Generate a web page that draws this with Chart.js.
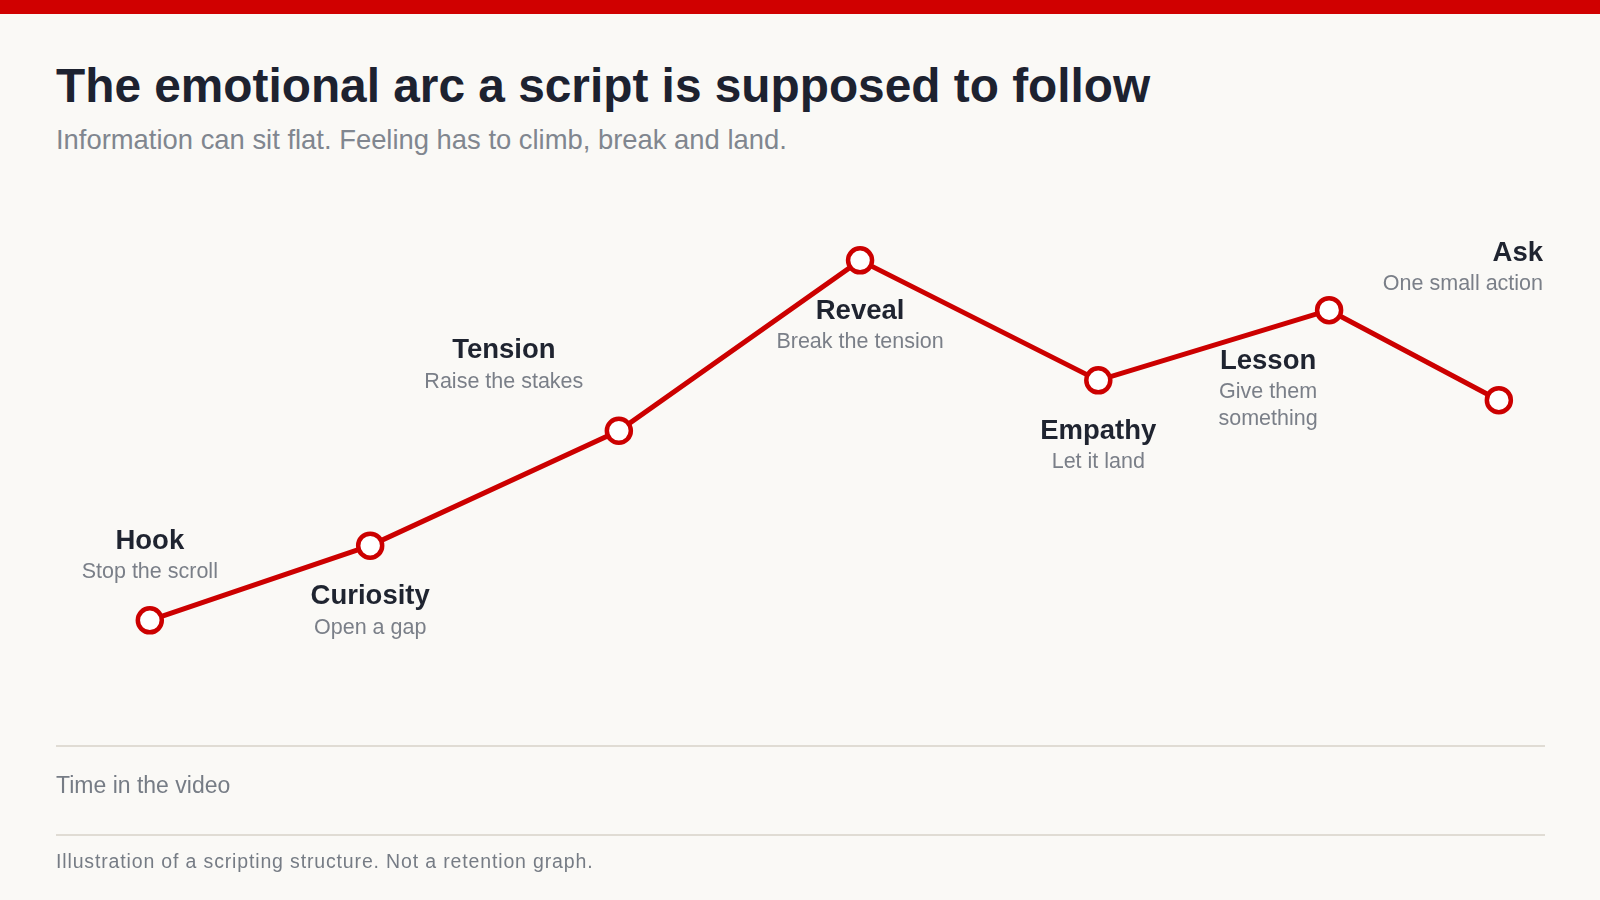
<!DOCTYPE html>
<html>
<head>
<meta charset="utf-8">
<script src="https://cdn.jsdelivr.net/npm/chart.js@4.4.1/dist/chart.umd.min.js"></script>
<style>
  html, body { margin: 0; padding: 0; }
  body {
    width: 1600px; height: 900px; overflow: hidden;
    background: #faf9f6;
    font-family: "Liberation Sans", Arial, sans-serif;
    position: relative;
  }
  .topbar { position: absolute; left: 0; top: 0; width: 1600px; height: 14px; background: #d00000; }
  .title {
    position: absolute; left: 56px; top: 60px; margin: 0;
    font-size: 47.8px; line-height: 52px; font-weight: bold; color: #1d2230;
  }
  .subtitle {
    position: absolute; left: 56px; top: 125px; margin: 0;
    font-size: 27.4px; line-height: 30px; color: #80868f;
  }
  .rule { position: absolute; left: 56px; width: 1489px; height: 2px; background: #e0dcd4; }
  .axis-note {
    position: absolute; left: 56px; top: 772px;
    font-size: 23px; line-height: 26px; color: #767c85;
  }
  .foot {
    position: absolute; left: 56px; top: 850px;
    font-size: 19.5px; line-height: 22px; color: #767c85; letter-spacing: 0.85px;
  }
  #wrap { position: absolute; left: 0; top: 0; width: 1600px; height: 900px; }
</style>
</head>
<body>
<div class="topbar"></div>
<h1 class="title">The emotional arc a script is supposed to follow</h1>
<div class="subtitle">Information can sit flat. Feeling has to climb, break and land.</div>
<div id="wrap"><canvas id="chartArc"></canvas></div>
<div class="rule" style="top:745px"></div>
<div class="axis-note">Time in the video</div>
<div class="rule" style="top:834px"></div>
<div class="foot">Illustration of a scripting structure. Not a retention graph.</div>

<script>
// Etapas do roteiro
const etapas = ['Hook', 'Curiosity', 'Tension', 'Reveal', 'Empathy', 'Lesson', 'Ask'];
const descricoes = ['Stop the scroll', 'Open a gap', 'Raise the stakes', 'Break the tension',
  'Let it land', 'Give them\nsomething', 'One small action'];
// Tempo no vídeo (0-100) e intensidade emocional (0-100)
const tempo = [6.3, 21.1, 37.8, 54.0, 70.0, 85.5, 96.9];
const emocao = [22.2, 35.4, 55.7, 85.8, 64.6, 77.0, 61.1];

// Posição dos rótulos em relação ao ponto (só estilo)
const posRotulos = [
  { dx: 0, dy: -79 },
  { dx: 0, dy: 51 },
  { dx: -115, dy: -80 },
  { dx: 0, dy: 51 },
  { dx: 0, dy: 51 },
  { dx: -61, dy: 51 },
  { dx: 0, dy: -147, right: true }
];

const rotulosPlugin = {
  id: 'rotulos',
  afterDatasetsDraw(chart) {
    const ctx = chart.ctx;
    const meta = chart.getDatasetMeta(0);
    ctx.save();
    ctx.textBaseline = 'middle';
    meta.data.forEach((pt, i) => {
      const p = posRotulos[i];
      let x = pt.x + p.dx;
      ctx.textAlign = 'center';
      if (p.right) {
        x = chart.chartArea.right - 2;
        ctx.textAlign = 'right';
      }
      const y = pt.y + p.dy;
      ctx.font = 'bold 27.5px "Liberation Sans", Arial, sans-serif';
      ctx.fillStyle = '#1f2430';
      ctx.fillText(etapas[i], x, y);
      ctx.font = '21.5px "Liberation Sans", Arial, sans-serif';
      ctx.fillStyle = '#7a7f88';
      descricoes[i].split('\n').forEach((linha, k) => {
        ctx.fillText(linha, x, y + 31 + k * 26.5);
      });
    });
    ctx.restore();
  }
};

const ctx = document.getElementById('chartArc').getContext('2d');
new Chart(ctx, {
  type: 'line',
  data: {
    datasets: [{
      data: tempo.map((t, i) => ({ x: t, y: emocao[i] })),
      borderColor: '#cc0000',
      borderWidth: 5,
      pointRadius: 12,
      pointBorderWidth: 4.5,
      pointBackgroundColor: '#ffffff',
      pointBorderColor: '#cc0000',
      tension: 0,
      clip: false
    }]
  },
  options: {
    responsive: true,
    maintainAspectRatio: false,
    animation: false,
    layout: { padding: { left: 56, right: 55, top: 180, bottom: 154 } },
    plugins: { legend: { display: false }, tooltip: { enabled: false } },
    scales: {
      x: { type: 'linear', min: 0, max: 100, display: false },
      y: { min: 0, max: 100, display: false }
    }
  },
  plugins: [rotulosPlugin]
});
</script>
</body>
</html>
